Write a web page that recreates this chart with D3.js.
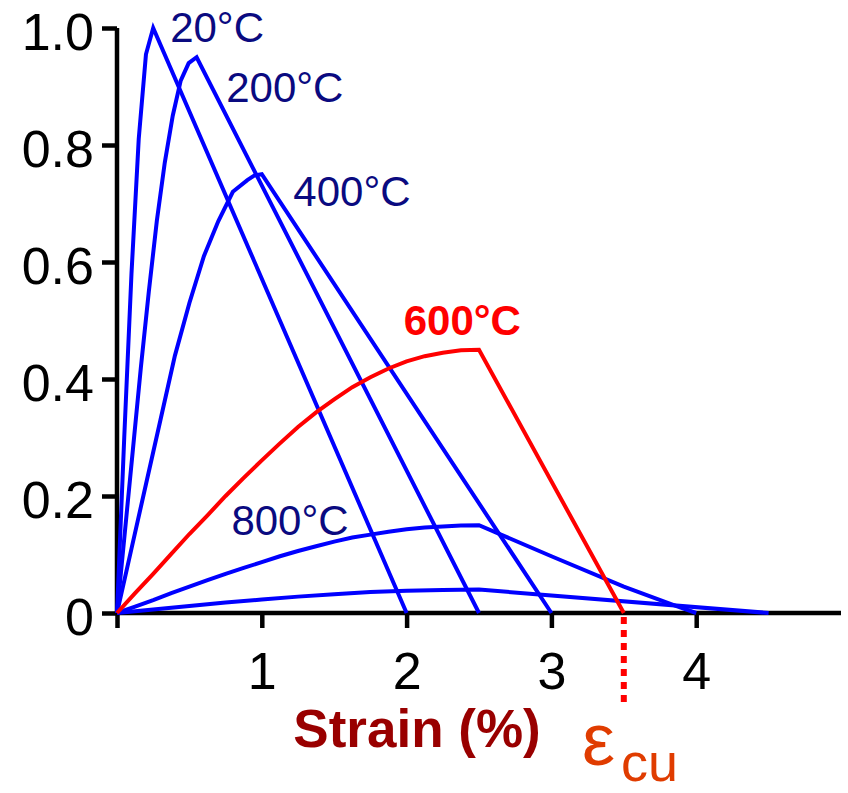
<!DOCTYPE html>
<html>
<head>
<meta charset="utf-8">
<script src="https://cdn.jsdelivr.net/npm/d3@7"></script>
<style>
  html, body { margin: 0; padding: 0; background: #fff; }
  svg { display: block; }
  text { font-family: "Liberation Sans", Arial, sans-serif; }
</style>
</head>
<body>
<svg id="chart" width="848" height="793"></svg>
<script>
// ---- data (strain %, relative stress) ----
const temps = ["20°C", "200°C", "400°C", "600°C", "800°C", "1000°C"];
const curve20 = [[0,0],[0.05,0.30],[0.10,0.58],[0.15,0.81],[0.20,0.955],[0.25,1.0],[2.0,0]];
const curve200 = [[0,0],[0.055,0.14],[0.11,0.28],[0.165,0.42],[0.22,0.55],[0.275,0.67],[0.33,0.77],[0.385,0.85],[0.44,0.91],[0.495,0.94],[0.55,0.95],[2.5,0]];
const curve400 = [[0,0],[0.1,0.11],[0.2,0.22],[0.3,0.33],[0.4,0.44],[0.5,0.53],[0.6,0.61],[0.7,0.67],[0.8,0.72],[0.9,0.74],[0.95,0.748],[1.0,0.75],[3.0,0]];
const curve600 = [[0,0],[0.125,0.034],[0.25,0.067],[0.375,0.101],[0.5,0.135],[0.625,0.167],[0.75,0.20],[0.875,0.231],[1.0,0.261],[1.125,0.29],[1.25,0.318],[1.375,0.343],[1.5,0.365],[1.625,0.386],[1.75,0.403],[1.875,0.418],[2.0,0.43],[2.125,0.439],[2.25,0.445],[2.375,0.449],[2.5,0.45],[3.5,0]];
const curve800 = [[0,0],[0.125,0.011],[0.25,0.022],[0.375,0.034],[0.5,0.045],[0.625,0.056],[0.75,0.067],[0.875,0.077],[1.0,0.087],[1.125,0.097],[1.25,0.106],[1.375,0.114],[1.5,0.122],[1.625,0.129],[1.75,0.134],[1.875,0.139],[2.0,0.143],[2.125,0.146],[2.25,0.148],[2.375,0.1496],[2.5,0.15],[3.0,0.097],[3.5,0.045],[3.85,0.013],[4.0,0]];
const curve1000 = [[0,0],[0.25,0.006],[0.5,0.012],[0.75,0.018],[1.0,0.023],[1.25,0.028],[1.5,0.032],[1.75,0.036],[2.0,0.038],[2.25,0.0395],[2.5,0.04],[4.5,0]];
const xTicks = [0, 1, 2, 3, 4];
const xTickLabels = ["", "1", "2", "3", "4"];
const yTicks = [0, 0.2, 0.4, 0.6, 0.8, 1.0];
const yTickLabels = ["0", "0.2", "0.4", "0.6", "0.8", "1.0"];
const epsCu = 3.5;
const xTitle = "Strain (%)";

// ---- layout ----
const svg = d3.select("#chart");
const x = d3.scaleLinear().domain([0, 5]).range([117, 841]);
const y = d3.scaleLinear().domain([0, 1]).range([613, 28]);

const curves = [
  {name: temps[0], pts: curve20, color: "#0000ff"},
  {name: temps[1], pts: curve200, color: "#0000ff"},
  {name: temps[2], pts: curve400, color: "#0000ff"},
  {name: temps[4], pts: curve800, color: "#0000ff"},
  {name: temps[5], pts: curve1000, color: "#0000ff"},
  {name: temps[3], pts: curve600, color: "#ff0000"}
];

const line = d3.line().x(d => x(d[0])).y(d => y(d[1]));

// axes
const xAxis = svg.append("g").attr("transform", `translate(0,${y(0)})`)
  .call(d3.axisBottom(x).tickValues(xTicks).tickSize(15).tickPadding(24)
    .tickFormat((d, i) => xTickLabels[i]));
const yAxis = svg.append("g").attr("transform", `translate(${x(0)},0)`)
  .call(d3.axisLeft(y).tickValues(yTicks).tickSize(15).tickPadding(8)
    .tickFormat((d, i) => yTickLabels[i]));

[xAxis, yAxis].forEach(g => {
  g.select(".domain").attr("stroke", "#000").attr("stroke-width", 4.5);
  g.selectAll(".tick line").attr("stroke", "#000").attr("stroke-width", 4.5);
  g.selectAll(".tick text").attr("fill", "#000").attr("font-size", 52)
    .attr("font-family", "'Liberation Sans', Arial, sans-serif");
});
xAxis.select(".domain").attr("d", `M${x(0)},0H${x(5)}`);
yAxis.select(".domain").attr("d", `M0,${y(0)}V${y(1)}`);
yAxis.selectAll(".tick text").attr("dy", "0.42em");

// dotted eps_cu line
svg.append("line")
  .attr("x1", x(epsCu)).attr("x2", x(epsCu))
  .attr("y1", y(0) + 4).attr("y2", y(0) + 94)
  .attr("stroke", "#ff0000").attr("stroke-width", 6)
  .attr("stroke-dasharray", "7,6");

// curves
svg.append("g").selectAll("path").data(curves).join("path")
  .attr("d", d => line(d.pts))
  .attr("fill", "none")
  .attr("stroke", d => d.color)
  .attr("stroke-width", 4)
  .attr("stroke-linejoin", "miter");

// curve labels
const labels = [
  {t: temps[0], sx: 0.367, sy: 0.976, color: "#0a0a80", bold: false},
  {t: temps[1], sx: 0.754, sy: 0.873, color: "#0a0a80", bold: false},
  {t: temps[2], sx: 1.218, sy: 0.696, color: "#0a0a80", bold: false},
  {t: temps[3], sx: 1.98, sy: 0.475, color: "#ff0000", bold: true},
  {t: temps[4], sx: 0.79, sy: 0.133, color: "#0a0a80", bold: false}
];
svg.append("g").selectAll("text").data(labels).join("text")
  .attr("x", d => x(d.sx)).attr("y", d => y(d.sy))
  .attr("fill", d => d.color)
  .attr("font-size", 42)
  .attr("font-weight", d => d.bold ? "bold" : "normal")
  .text(d => d.t);

// axis title
svg.append("text")
  .attr("x", 417).attr("y", 747)
  .attr("text-anchor", "middle")
  .attr("font-size", 53).attr("font-weight", "bold")
  .attr("fill", "#990000")
  .text(xTitle);

// epsilon_cu label
svg.append("text").attr("fill", "#e03c00")
  .attr("x", 582).attr("y", 765)
  .attr("font-family", "'DejaVu Serif', 'Liberation Serif', serif")
  .attr("font-size", 74).text("ε");
svg.append("text").attr("fill", "#e03c00")
  .attr("x", 621).attr("y", 781)
  .attr("font-family", "'Liberation Sans', Arial, sans-serif")
  .attr("font-size", 54).text("cu");
</script>
</body>
</html>
